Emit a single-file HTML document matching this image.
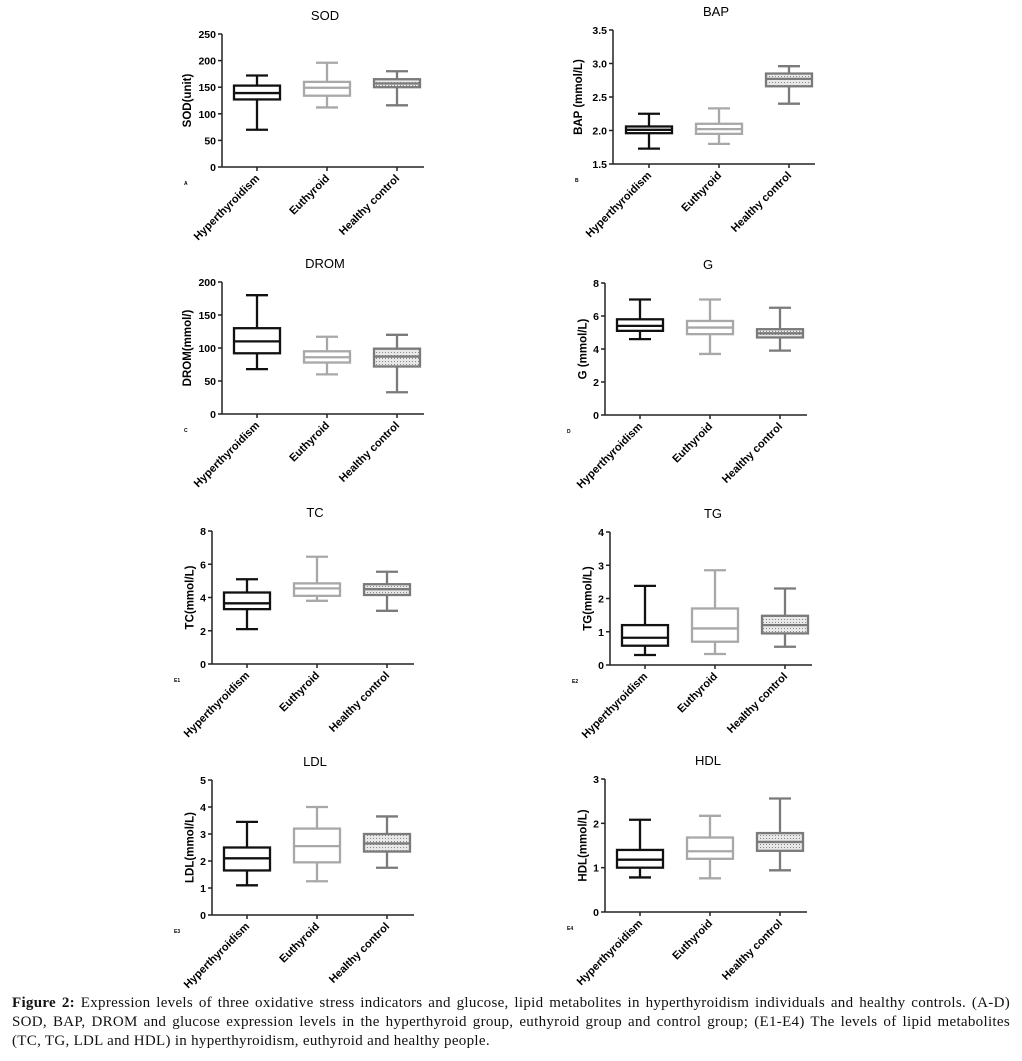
<!DOCTYPE html>
<html><head><meta charset="utf-8">
<style>
body{margin:0;background:#fff;width:1022px;height:1061px;overflow:hidden;position:relative}
svg{position:absolute;left:0;top:0}
#cap{position:absolute;left:12px;top:994px;width:998px;font-family:"Liberation Serif",serif;font-size:15px;letter-spacing:0.3px;line-height:19px;color:#111}
#cap div{white-space:nowrap}
#cap .j{text-align:justify;text-align-last:justify;white-space:normal}
</style></head><body>
<svg id="fig" width="1022" height="990"></svg>
<div id="cap">
<div class="j"><b>Figure 2:</b> Expression levels of three oxidative stress indicators and glucose, lipid metabolites in hyperthyroidism individuals and healthy controls. (A-D)</div>
<div class="j">SOD, BAP, DROM and glucose expression levels in the hyperthyroid group, euthyroid group and control group; (E1-E4) The levels of lipid metabolites</div>
<div>(TC, TG, LDL and HDL) in hyperthyroidism, euthyroid and healthy people.</div>
</div>
<script>
const categories=["Hyperthyroidism","Euthyroid","Healthy control"];
const panelTitles=["SOD","BAP","DROM","G","TC","TG","LDL","HDL"];
const panelLetters=["A","B","C","D","E1","E2","E3","E4"];
const yTitles=["SOD(unit)","BAP (mmol/L)","DROM(mmol/)","G (mmol/L)","TC(mmol/L)","TG(mmol/L)","LDL(mmol/L)","HDL(mmol/L)"];
const yTicks=[["0","50","100","150","200","250"],["1.5","2.0","2.5","3.0","3.5"],["0","50","100","150","200"],["0","2","4","6","8"],["0","2","4","6","8"],["0","1","2","3","4"],["0","1","2","3","4","5"],["0","1","2","3"]];
// per panel: [min, q1, median, q3, max] for each category
const sodValues=[[70,127,139,153,172],[112,134,149,160,196],[116,150,157,165,180]];
const bapValues=[[1.73,1.96,2.01,2.06,2.25],[1.8,1.95,2.02,2.1,2.33],[2.4,2.66,2.77,2.85,2.96]];
const dromValues=[[68,92,110,130,180],[60,78,86,95,117],[33,72,87,99,120]];
const gValues=[[4.6,5.1,5.4,5.8,7],[3.7,4.9,5.3,5.7,7],[3.9,4.7,4.95,5.2,6.5]];
const tcValues=[[2.1,3.3,3.65,4.3,5.1],[3.8,4.1,4.55,4.85,6.45],[3.2,4.15,4.5,4.8,5.55]];
const tgValues=[[0.3,0.58,0.82,1.2,2.38],[0.33,0.7,1.1,1.7,2.85],[0.55,0.95,1.2,1.48,2.3]];
const ldlValues=[[1.1,1.65,2.1,2.5,3.45],[1.25,1.95,2.55,3.2,4.0],[1.75,2.35,2.65,3.0,3.65]];
const hdlValues=[[0.78,1.0,1.18,1.4,2.08],[0.76,1.2,1.37,1.68,2.17],[0.94,1.38,1.58,1.78,2.56]];
const allValues=[sodValues,bapValues,dromValues,gValues,tcValues,tgValues,ldlValues,hdlValues];

const layout=[
 {ax:222,y0:167,top:34,c0:257},{ax:613,y0:164,top:30,c0:649},
 {ax:222,y0:414,top:282,c0:257},{ax:605,y0:415,top:283,c0:640},
 {ax:212,y0:664,top:531,c0:247},{ax:610,y0:665,top:532,c0:645},
 {ax:212,y0:915,top:780,c0:247},{ax:605,y0:912,top:779,c0:640}];
const colors=["#111","#a8a8a8","#7a7a7a"];
const NS="http://www.w3.org/2000/svg";
const svg=document.getElementById('fig');
function mk(tag,attrs,parent){const e=document.createElementNS(NS,tag);for(const k in attrs)e.setAttribute(k,attrs[k]);(parent||svg).appendChild(e);return e;}
const defs=mk('defs',{});
const pat=mk('pattern',{id:'dots',width:3,height:3,patternUnits:'userSpaceOnUse'},defs);
mk('rect',{width:3,height:3,fill:'#e8e8e8'},pat);mk('rect',{x:1,y:1,width:1,height:1,fill:'#888'},pat);

layout.forEach((L,p)=>{
 const g=mk('g',{});
 
 
 const ticks=yTicks[p];const lo=parseFloat(ticks[0]),hi=parseFloat(ticks[ticks.length-1]);
 const y=v=>L.y0-(v-lo)/(hi-lo)*(L.y0-L.top);
 const x=i=>L.c0+i*70;
 const right=L.ax+202;
 const t=mk('text',{x:(L.ax+right)/2+2,y:L.top-14,'text-anchor':'middle','font-family':'Liberation Sans,sans-serif','font-size':13},g);
 t.textContent=panelTitles[p];
 
 mk('line',{x1:L.ax,y1:L.top,x2:L.ax,y2:L.y0,stroke:'#222','stroke-width':1.5},g);
 mk('line',{x1:L.ax,y1:L.y0,x2:right,y2:L.y0,stroke:'#222','stroke-width':1.5},g);
 ticks.forEach(s=>{const yy=y(parseFloat(s));
  mk('line',{x1:L.ax-4,y1:yy,x2:L.ax,y2:yy,stroke:'#222','stroke-width':1.5},g);
  const tl=mk('text',{x:L.ax-6,y:yy+4,'text-anchor':'end','font-family':'Liberation Sans,sans-serif','font-size':10.5,'font-weight':'bold'},g);
  tl.textContent=s;
  
 });
 const maxLen=Math.max(...ticks.map(s=>s.length));
 const tx=L.ax-12-maxLen*6.3;
 const yt=mk('text',{x:tx,y:(L.top+L.y0)/2,'text-anchor':'middle','font-family':'Liberation Sans,sans-serif','font-size':11.5,'font-weight':'bold',transform:`rotate(-90 ${tx} ${(L.top+L.y0)/2})`},g);
 yt.textContent=yTitles[p];
 
 const lt=mk('text',{x:L.ax-38,y:L.y0+18,'font-family':'Liberation Sans,sans-serif','font-size':5,'font-weight':'bold'},g);
 lt.textContent=panelLetters[p];
 
 allValues[p].forEach((v,i)=>{
  const cx=x(i),c=colors[i],w=46;
  mk('line',{x1:cx,y1:L.y0,x2:cx,y2:L.y0+4,stroke:'#222','stroke-width':1.5},g);
  const xl=mk('text',{x:cx+3,y:L.y0+12,'text-anchor':'end','font-family':'Liberation Sans,sans-serif','font-size':11,'font-weight':'bold',transform:`rotate(-45 ${cx+3} ${L.y0+12})`},g);
  xl.textContent=categories[i];
  
  const bg=mk('g',{stroke:c,'stroke-width':2.3,fill:'none'},g);
  
  
  mk('line',{x1:cx,y1:y(v[0]),x2:cx,y2:y(v[1])},bg);
  mk('line',{x1:cx,y1:y(v[3]),x2:cx,y2:y(v[4])},bg);
  mk('line',{x1:cx-11,y1:y(v[0]),x2:cx+11,y2:y(v[0])},bg);
  mk('line',{x1:cx-11,y1:y(v[4]),x2:cx+11,y2:y(v[4])},bg);
  mk('rect',{x:cx-w/2,y:y(v[3]),width:w,height:Math.max(1,y(v[1])-y(v[3])),fill:i==2?'url(#dots)':'#fff'},bg);
  mk('line',{x1:cx-w/2,y1:y(v[2]),x2:cx+w/2,y2:y(v[2])},bg);
 });
});
</script>
</body></html>
